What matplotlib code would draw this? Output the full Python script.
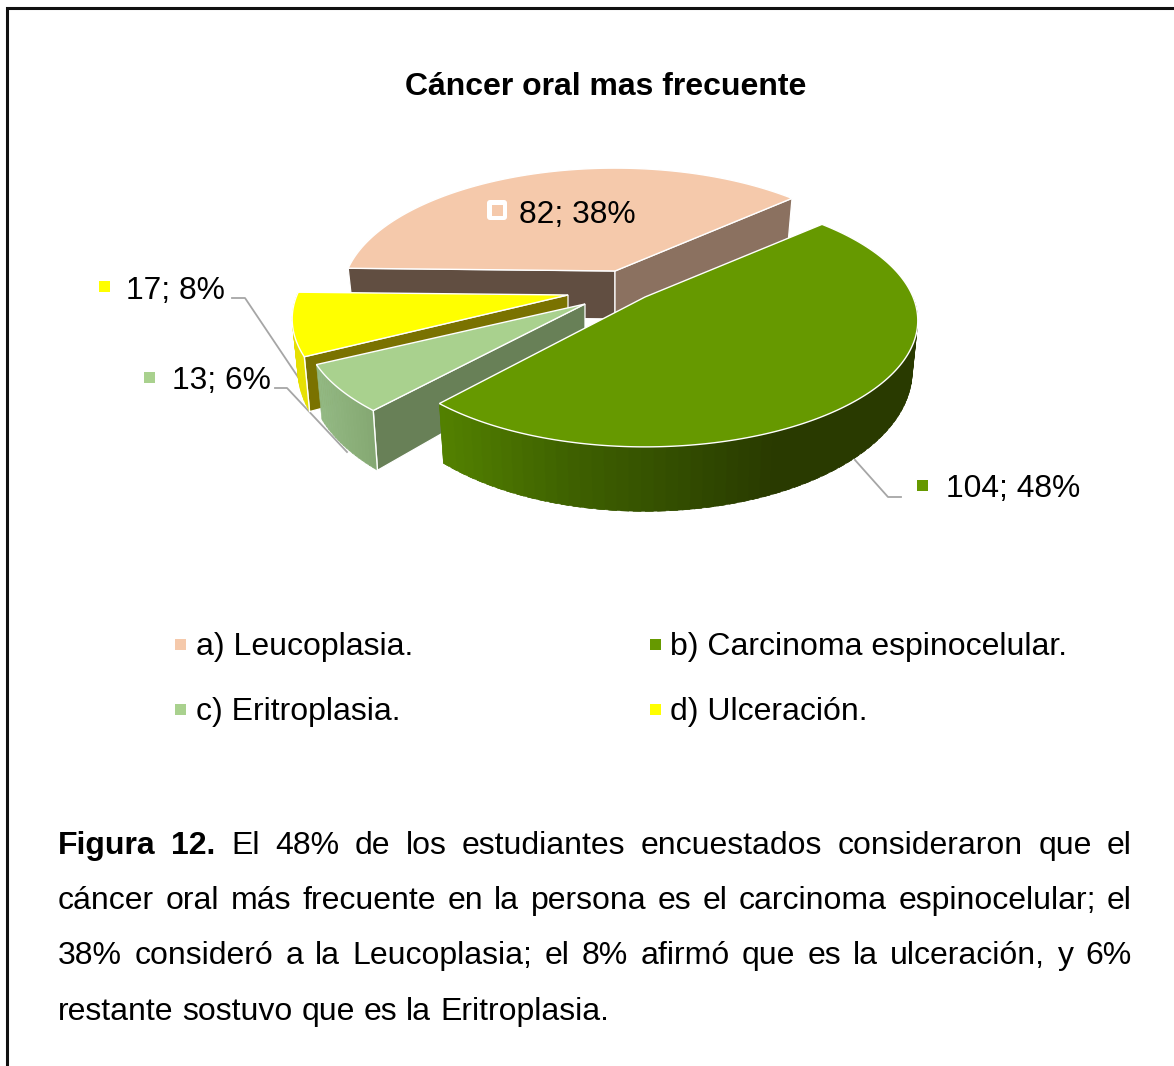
import numpy as np
import matplotlib
matplotlib.use("Agg")
import matplotlib.pyplot as plt
from matplotlib.patches import Polygon, Rectangle, FancyBboxPatch

# ---- data ----
categories = ["a) Leucoplasia.", "b) Carcinoma espinocelular.", "c) Eritroplasia.", "d) Ulceración."]
counts = [82, 104, 13, 17]
value_labels = ["82; 38%", "104; 48%", "13; 6%", "17; 8%"]
title = "Cáncer oral mas frecuente"
caption_lines = [
    "El 48% de los estudiantes encuestados consideraron que el",
    "cáncer oral más frecuente en la persona es el carcinoma espinocelular; el",
    "38% consideró a la Leucoplasia; el 8% afirmó que es la ulceración, y 6%",
    "restante sostuvo que es la Eritroplasia.",
]
caption_lead = "Figura 12."

# ---- style ----
top_colors = ["#F5C9AB", "#669900", "#A9D18E", "#FFFF00"]
face_colors = ["#614E41", "#8B7160"]
inner_colors = [None, None, "#688057", "#7A7200"]
START_ANGLE = 178.7
K = 0.186
KY = 122.0
centers = [(615, 271), (645, 297), (585, 304), (568, 295)]
radii = [268, 268, 276, 271]
ky_scale = [1.0, 1.0, 1.0, 1.02]
TXT = 23
LABEL_TXT = 22.85
FONT = "Liberation Sans"
plt.rcParams["font.family"] = FONT

fig = plt.figure(figsize=(11.74, 10.66), dpi=100)
ax = fig.add_axes([0, 0, 1, 1])
ax.set_xlim(0, 1174)
ax.set_ylim(1066, 0)
ax.axis("off")


def project(theta, c, r, ks):
    t = np.radians(theta)
    s = 1.0 / (1.0 + K * np.sin(t))
    return c[0] + r * np.cos(t) * s, c[1] - KY * ks * np.sin(t) * s


def lower(x, y, c):
    depth = 48 + 0.11 * (y - c[1])
    return c[0] + (x - c[0]) * 0.98, y + depth


def side_color(i, x):
    if i == 1:
        xs = [444, 560, 700, 770, 920]
        rgb = [(0x52, 0x80, 0x00), (0x3F, 0x62, 0x00), (0x30, 0x48, 0x00), (0x29, 0x3A, 0x00), (0x29, 0x3A, 0x00)]
    elif i == 2:
        xs = [320, 375]
        rgb = [(0x92, 0xB8, 0x82), (0x84, 0xA7, 0x72)]
    else:
        xs = [290, 320]
        rgb = [(0xE6, 0xE0, 0x00), (0xE6, 0xE0, 0x00)]
    return tuple(np.interp(x, xs, [p[j] for p in rgb]) / 255 for j in range(3))


# ---- frame ----
ax.plot([6.5, 6.5, 1174], [1066, 8.2, 8.2], color="#111111", lw=2.2, solid_joinstyle="miter", zorder=1)

# ---- leader lines ----
for xs, ys in [([232, 245, 300], [298, 298, 380]),
               ([275, 287, 347], [388, 388, 452]),
               ([855, 888, 901], [460, 497, 497])]:
    ax.plot(xs, ys, color="#A6A6A6", lw=1.3, zorder=2)

# ---- pie ----
spans = 360.0 * np.array(counts) / np.sum(counts)
starts = START_ANGLE - np.concatenate([[0], np.cumsum(spans)[:-1]])
z = 3
for i in [0, 3, 2, 1]:
    c, r, ks = centers[i], radii[i], ky_scale[i]
    a0, a1 = starts[i], starts[i] - spans[i]
    th = np.linspace(a0, a1, 240)
    px, py = project(th, c, r, ks)
    lc = lower(c[0], c[1], c)

    # flat cut faces
    if i == 0:
        for ang, col in [(a0, face_colors[0]), (a1, face_colors[1])]:
            x, y = project(ang, c, r, ks)
            bx, by = lower(x, y, c)
            ax.add_patch(Polygon([c, (x, y), (bx, by), lc], closed=True, fc=col, ec="white", lw=0.9, zorder=z))
            z += 1
    elif inner_colors[i] is not None:
        x, y = project(a0, c, r, ks)
        bx, by = lower(x, y, c)
        ax.add_patch(Polygon([c, (x, y), (bx, by), lc], closed=True, fc=inner_colors[i], ec="white", lw=0.9, zorder=z))
        z += 1

    # outer rim: bands wide enough to overlap, outlined in their own colour
    if i != 0:
        bx_all, by_all = lower(px, py, c)
        mask = np.sin(np.radians(th)) <= 0.02
        idx = np.where(mask)[0]
        step = 3 if i == 1 else 12
        for j in idx[:-1][::step]:
            k = min(j + step + 2, idx[-1])
            col = side_color(i, (px[j] + px[k]) / 2)
            ax.add_patch(Polygon([(px[j], py[j]), (px[k], py[k]), (bx_all[k], by_all[k]), (bx_all[j], by_all[j])],
                                 closed=True, fc=col, ec=col, lw=0.4, zorder=z))
        z += 1
        if i in (2, 3):
            ax.plot([px[0], bx_all[0]], [py[0], by_all[0]], color="white", lw=1.0, zorder=z)

    # top face
    pts = [c] + list(zip(px, py))
    ax.add_patch(Polygon(pts, closed=True, fc=top_colors[i], ec="white", lw=1.0, zorder=z + 1, joinstyle="miter"))
    z += 2

# ---- value labels ----
label_pos = [(519, 223), (946, 497), (171.5, 389), (126.5, 299)]
marker_pos = [(497, 210), (922, 485), (149, 377), (104, 286)]
for i, lab in enumerate(value_labels):
    ax.text(label_pos[i][0], label_pos[i][1], lab, fontsize=LABEL_TXT, color="black", ha="left", va="baseline", zorder=100)
    mx, my = marker_pos[i]
    if i == 0:
        ax.add_patch(FancyBboxPatch((mx - 10, my - 10), 20, 20, boxstyle="round,pad=0,rounding_size=3",
                                    fc="white", ec="none", zorder=100))
    ax.add_patch(Rectangle((mx - 5.5, my - 5.5), 11, 11, fc=top_colors[i], ec="none", zorder=101))

# ---- legend ----
legend_marker = [(180, 644), (655, 644), (180, 709), (655, 709)]
for i, name in enumerate(categories):
    mx, my = legend_marker[i]
    ax.add_patch(Rectangle((mx - 5.5, my - 5.5), 11, 11, fc=top_colors[i], ec="none", zorder=100))
    ax.text(mx + 15.5, my + 11, name, fontsize=TXT, color="black", ha="left", va="baseline", zorder=100)

# ---- title ----
ax.text(606, 95, title, fontsize=TXT, fontweight="bold", color="black", ha="center", va="baseline", zorder=100)

# ---- caption, justified word by word ----
fig.canvas.draw()
rend = fig.canvas.get_renderer()


def word_w(s, weight="normal"):
    t = ax.text(0, 0, s, fontsize=TXT, fontweight=weight)
    w = t.get_window_extent(rend).width
    t.remove()
    return w


LEFT, RIGHT = 58, 1132
baselines = [854, 909, 964, 1020]
for n, line in enumerate(caption_lines):
    words = [(w, "normal") for w in line.split()]
    if n == 0:
        words = [(w, "bold") for w in caption_lead.split()] + words
    widths = [word_w(w, wt) for w, wt in words]
    if n < 3:
        gap = (RIGHT - LEFT - sum(widths)) / (len(words) - 1)
    else:
        gap = word_w("a a") - 2 * word_w("a")
    x = LEFT
    for (w, wt), wd in zip(words, widths):
        ax.text(x, baselines[n], w, fontsize=TXT, fontweight=wt, color="black", ha="left", va="baseline", zorder=100)
        x += wd + gap

fig.savefig("out.png", dpi=100, facecolor="white")
